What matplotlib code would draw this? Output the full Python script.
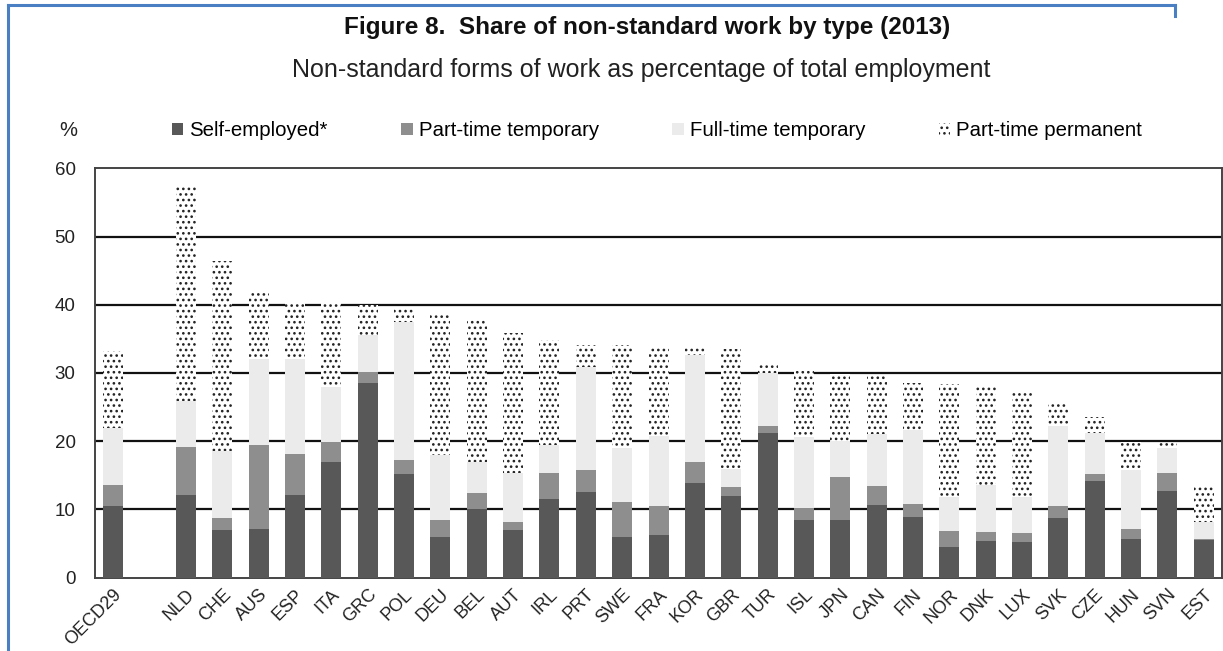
import numpy as np
import matplotlib
matplotlib.use("Agg")
import matplotlib.pyplot as plt
from matplotlib.patches import Patch
from matplotlib.lines import Line2D

plt.rcParams['font.family'] = ['Liberation Sans', 'DejaVu Sans']
plt.rcParams['hatch.linewidth'] = 1.1
plt.rcParams['hatch.color'] = '#222222'

countries = ["OECD29", "NLD", "CHE", "AUS", "ESP", "ITA", "GRC", "POL", "DEU", "BEL",
             "AUT", "IRL", "PRT", "SWE", "FRA", "KOR", "GBR", "TUR", "ISL", "JPN",
             "CAN", "FIN", "NOR", "DNK", "LUX", "SVK", "CZE", "HUN", "SVN", "EST"]

# cumulative tops (% of total employment)
self_top = [10.5, 12.1, 7.0, 7.1, 12.1, 17.0, 28.6, 15.2, 5.9, 10.0,
            7.0, 11.6, 12.5, 6.0, 6.3, 13.9, 12.0, 21.2, 8.5, 8.4,
            10.6, 8.9, 4.5, 5.4, 5.3, 8.8, 14.1, 5.6, 12.7, 5.5]
ptt_top = [13.6, 19.2, 8.8, 19.4, 18.1, 19.9, 30.2, 17.3, 8.4, 12.4,
           8.2, 15.3, 15.8, 11.1, 10.5, 16.9, 13.3, 22.2, 10.2, 14.7,
           13.4, 10.8, 6.9, 6.7, 6.6, 10.5, 15.2, 7.1, 15.4, 5.6]
ftt_top = [21.9, 25.9, 18.6, 32.1, 32.1, 28.0, 35.6, 37.4, 18.0, 17.0,
           15.3, 19.4, 30.9, 19.0, 20.7, 32.6, 16.0, 30.0, 20.6, 20.1,
           21.1, 21.6, 11.8, 13.6, 11.8, 22.2, 21.2, 15.8, 19.0, 8.2]
total = [33.2, 57.6, 46.4, 41.9, 40.2, 40.2, 40.0, 39.5, 38.7, 37.9,
         35.9, 34.8, 34.1, 34.1, 33.6, 33.6, 33.5, 31.4, 30.3, 29.8,
         29.6, 28.5, 28.4, 28.1, 27.1, 25.5, 23.6, 19.9, 19.7, 13.4]

self_emp = np.array(self_top)
pt_temp = np.array(ptt_top) - self_emp
ft_temp = np.array(ftt_top) - np.array(ptt_top)
pt_perm = np.array(total) - np.array(ftt_top)

# OECD average sits apart, then a gap of one slot
x = np.array([0] + list(range(2, len(countries) + 1)))

fig = plt.figure(figsize=(12.23, 6.51), dpi=100)
ax = fig.add_axes([0.0777, 0.1126, 0.9215, 0.6289])

w = 0.55
c_self, c_ptt, c_ftt = '#585858', '#8e8e8e', '#ebebeb'
ax.bar(x, self_emp, w, color=c_self, zorder=3)
ax.bar(x, pt_temp, w, bottom=self_emp, color=c_ptt, zorder=3)
ax.bar(x, ft_temp, w, bottom=self_emp + pt_temp, color=c_ftt, zorder=3)
ax.bar(x, pt_perm, w, bottom=self_emp + pt_temp + ft_temp, color='white',
       hatch='...', edgecolor='#222222', linewidth=0, zorder=3)

ax.set_xlim(-0.5, 30.5)
ax.set_ylim(0, 60)
ax.set_yticks(range(0, 61, 10))
for y in range(10, 60, 10):
    ax.axhline(y, color='#111111', lw=1.6, zorder=1)
for s in ax.spines.values():
    s.set_color('#444444')
    s.set_linewidth(1.4)
ax.tick_params(axis='y', length=0, labelsize=13.5, colors='#222222', pad=14)
ax.set_xticks(x)
ax.set_xticklabels(countries, rotation=45, ha='right', rotation_mode='anchor')
ax.tick_params(axis='x', length=0, labelsize=13, colors='#222222', pad=6)

fig.text(0.5294, 0.9585, "Figure 8.  Share of non-standard work by type (2013)",
         ha='center', va='center', fontsize=17.5, fontweight='bold', color='#111111')
fig.text(0.5245, 0.8925, "Non-standard forms of work as percentage of total employment",
         ha='center', va='center', fontsize=18, color='#222222')
fig.text(0.0556, 0.7988, "%", ha='center', va='center', fontsize=14.5, color='#222222')

handles = [Patch(facecolor=c_self), Patch(facecolor=c_ptt), Patch(facecolor=c_ftt),
           Patch(facecolor='white', hatch='...', edgecolor='#222222', linewidth=0)]
labels = ["Self-employed*", "Part-time temporary", "Full-time temporary", "Part-time permanent"]
fig.legend(handles, labels, ncol=4, loc='center left', bbox_to_anchor=(0.1406, 0.7988),
           frameon=False, fontsize=14.7, handlelength=0.55, handleheight=0.55,
           handletextpad=0.3, columnspacing=3.6, borderaxespad=0, borderpad=0)

# blue frame around the figure (left and top edges)
blue = '#4a7fc4'
fig.add_artist(Line2D([0.0065, 0.0065], [0.0, 0.992], color=blue, lw=2.2))
fig.add_artist(Line2D([0.0065, 0.961], [0.992, 0.992], color=blue, lw=2.2))
fig.add_artist(Line2D([0.961, 0.961], [0.992, 0.975], color=blue, lw=2.2))

fig.savefig("out.png", dpi=100)
